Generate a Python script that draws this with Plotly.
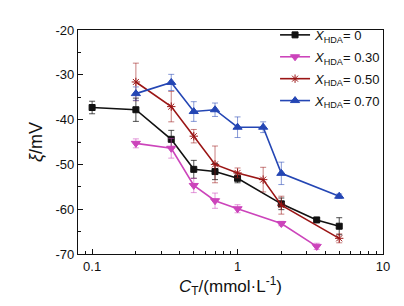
import plotly.graph_objects as go

# Data
x_0 = [0.1, 0.2, 0.35, 0.5, 0.7, 1.0, 2.0, 3.5, 5.0]
y_0 = [-37.3, -37.8, -44.4, -51.1, -51.6, -53.1, -58.8, -62.4, -63.8]
e_0 = [1.4, 2.6, 2.0, 2.0, 1.8, 1.0, 1.3, 0.5, 1.9]

x_30 = [0.2, 0.35, 0.5, 0.7, 1.0, 2.0, 3.5]
y_30 = [-45.3, -46.4, -54.7, -58.1, -59.9, -63.2, -68.3]
e_30 = [1.0, 2.2, 1.6, 1.7, 0.9, 0.5, 0.7]

x_50 = [0.2, 0.35, 0.5, 0.7, 1.0, 1.5, 2.0, 5.0]
y_50 = [-31.6, -37.1, -43.7, -50.0, -51.9, -53.4, -59.1, -66.5]
e_50 = [4.2, 3.4, 1.5, 4.1, 1.1, 2.75, 2.0, 1.0]

x_70 = [0.2, 0.35, 0.5, 0.7, 1.0, 1.5, 2.0, 5.0]
y_70 = [-34.2, -31.7, -38.2, -37.8, -41.7, -41.7, -52.0, -57.1]
e_70 = [1.5, 1.8, 2.2, 1.5, 2.3, 1.2, 2.5, 0.5]

names = ["<i>X</i><sub>HDA</sub>= 0", "<i>X</i><sub>HDA</sub>= 0.30",
         "<i>X</i><sub>HDA</sub>= 0.50", "<i>X</i><sub>HDA</sub>= 0.70"]

x_major = [0.1, 1, 10]
x_major_text = ["0.1", "1", "10"]
x_minor = [0.09] + [k * 0.1 for k in range(2, 10)] + [float(k) for k in range(2, 10)]
y_major = [-70, -60, -50, -40, -30, -20]
y_major_text = ["-70", "-60", "-50", "-40", "-30", "-20"]

series = [
    (x_0, y_0, e_0, "#111111", "rgba(20,20,20,0.75)", "square", 6),
    (x_30, y_30, e_30, "#CC44BB", "rgba(204,68,187,0.55)", "triangle-down", 8),
    (x_50, y_50, e_50, "#9B1515", "rgba(155,21,21,0.55)", "asterisk-open", 7),
    (x_70, y_70, e_70, "#2446B4", "rgba(36,70,180,0.55)", "triangle-up", 8),
]

fig = go.Figure()
for i, ((xs, ys, es, col, ecol, sym, sz), nm) in enumerate(zip(series, names)):
    fig.add_trace(go.Scatter(
        x=xs, y=ys, name=nm, mode="lines+markers", legendgroup=f"g{i}",
        line=dict(color=col, width=1.6),
        marker=dict(symbol=sym, size=sz, color=col, line=dict(color=col, width=1)),
        error_y=dict(type="data", array=es, visible=True, color=ecol, thickness=1, width=3),
    ))

font = dict(family="Liberation Sans, Arial, sans-serif", size=13, color="#111111")

fig.update_layout(
    width=404, height=306,
    margin=dict(l=70, r=29, t=19, b=60),
    paper_bgcolor="white", plot_bgcolor="white",
    font=font,
    showlegend=True,
    legend=dict(x=1.01, y=1.045, xanchor="right", yanchor="top", bgcolor="rgba(0,0,0,0)",
                font=dict(size=13), itemwidth=30, tracegroupgap=2),
)
fig.update_xaxes(
    type="log", range=[-1.097, 1.0],
    tickvals=x_major, ticktext=x_major_text,
    ticks="inside", ticklen=5, tickwidth=1, tickcolor="#111",
    minor=dict(tickvals=x_minor, ticks="inside", ticklen=3, tickcolor="#111"),
    showline=True, linecolor="#111", linewidth=1.2, mirror=True,
    showgrid=False, zeroline=False,
    title=dict(text="<i>C</i><sub>T</sub>/(mmol·L<sup>-1</sup>)", font=dict(size=17), standoff=6),
)
fig.update_yaxes(
    range=[-70, -20], tickvals=y_major, ticktext=y_major_text,
    ticks="inside", ticklen=5, tickwidth=1, tickcolor="#111",
    minor=dict(dtick=5, ticks="inside", ticklen=3, tickcolor="#111"),
    showline=True, linecolor="#111", linewidth=1.2, mirror=True,
    showgrid=False, zeroline=False,
    title=dict(text="<i>ξ</i>/mV", font=dict(size=18), standoff=8),
)

fig.write_html("out.html")
